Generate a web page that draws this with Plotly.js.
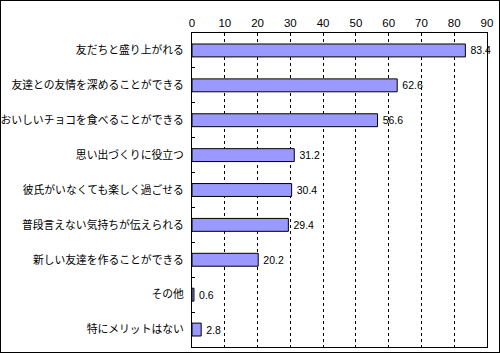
<!DOCTYPE html>
<html><head><meta charset="utf-8">
<script src="https://cdn.plot.ly/plotly-3.0.1.min.js"></script>
<style>
html,body{margin:0;padding:0;background:#fff;}
#wrap{position:relative;width:500px;height:353px;}
#chart{width:500px;height:353px;}
#frame{position:absolute;left:0;top:0;width:500px;height:353px;box-sizing:border-box;border:1px solid #000;pointer-events:none;}
</style></head>
<body>
<div id="wrap"><div id="chart"></div><div id="frame"></div></div>
<script>
const categories = [
  "友だちと盛り上がれる",
  "友達との友情を深めることができる",
  "おいしいチョコを食べることができる",
  "思い出づくりに役立つ",
  "彼氏がいなくても楽しく過ごせる",
  "普段言えない気持ちが伝えられる",
  "新しい友達を作ることができる",
  "その他",
  "特にメリットはない"
];
const values = [83.4, 62.6, 56.6, 31.2, 30.4, 29.4, 20.2, 0.6, 2.8];
const tickVals = [0,10,20,30,40,50,60,70,80,90];

const font = "'Noto Sans CJK JP', 'Noto Sans', sans-serif";
const trace = {
  type: 'bar',
  orientation: 'h',
  y: categories,
  x: values,
  text: values.map(v => '\u2009' + v.toFixed(1)),
  textposition: 'outside',
  constraintext: 'none',
  cliponaxis: false,
  textfont: {family: "'Liberation Sans', Arial, sans-serif", size: 10.5, color: '#000'},
  marker: {color: '#9999ff', line: {color: '#000', width: 1}},
  hoverinfo: 'none'
};
const layout = {
  width: 500, height: 353,
  margin: {l: 192, r: 13, t: 33, b: 6, pad: 0},
  paper_bgcolor: '#fff', plot_bgcolor: '#fff',
  showlegend: false,
  bargap: 0.63,
  xaxis: {
    side: 'top', range: [0, 90], tickvals: tickVals,
    showgrid: true, gridcolor: '#000', gridwidth: 1, griddash: '3px,3px',
    showline: true, linecolor: '#000', linewidth: 1, mirror: true,
    ticks: '', zeroline: false,
    tickfont: {family: "'Liberation Sans', Arial, sans-serif", size: 11.5, color: '#000'}
  },
  yaxis: {
    autorange: 'reversed', type: 'category',
    showline: true, linecolor: '#000', linewidth: 1, mirror: true,
    ticks: 'inside', tickson: 'boundaries', ticklen: 3, tickcolor: '#000',
    showgrid: false, zeroline: false,
    ticklabelstandoff: 5,
    tickfont: {family: font, size: 10.8, color: '#000'}
  }
};
Plotly.newPlot('chart', [trace], layout, {staticPlot: true, displayModeBar: false});
</script>
</body></html>
